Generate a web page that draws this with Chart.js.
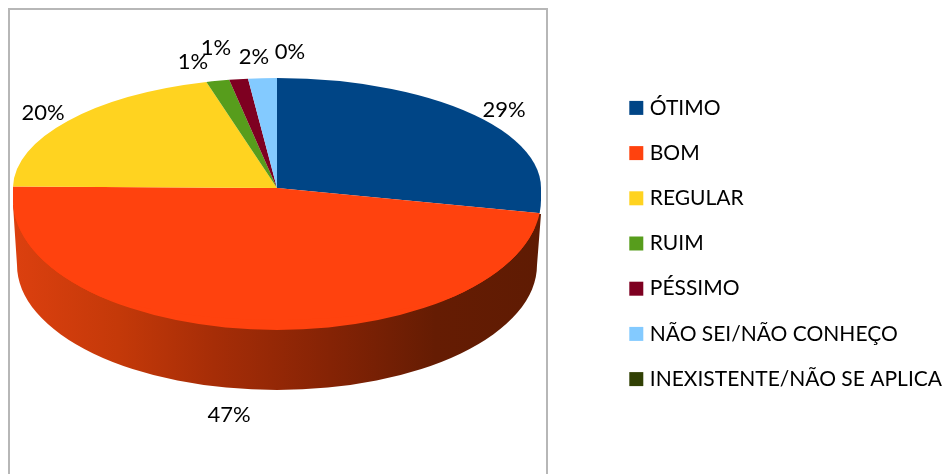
<!DOCTYPE html>
<html>
<head>
<meta charset="utf-8">
<style>
  body { margin: 0; background: #fff; }
  canvas { display: block; }
</style>
<script src="https://cdn.jsdelivr.net/npm/chart.js@4"></script>
</head>
<body>
<canvas id="pie-chart" width="946" height="474"></canvas>
<script>
// data
const categories = ["ÓTIMO", "BOM", "REGULAR", "RUIM", "PÉSSIMO", "NÃO SEI/NÃO CONHEÇO", "INEXISTENTE/NÃO SE APLICA"];
const percentages = [28.6, 46.6, 20.49, 1.41, 1.15, 1.75, 0];
const sliceColors = ["#004586", "#ff420e", "#ffd320", "#579d1c", "#7e0021", "#83caff", "#314004"];

// where the percent labels sit (same order as categories)
const labelAnchors = [[504, 110], [229, 415], [43, 113], [193, 62], [216, 48], [254, 57], [290, 52]];

// fake perspective of the disc
const RX = 264, CX = 277, CY = 188;
const RY_BACK = 110;                // back half
const FRONT_CY = 200, FRONT_RY = 130;   // front rim
const BASE_CY = 265, BASE_RX = 260, BASE_RY = 125;  // bottom rim of the wall
const FONT = "Lato, Carlito, sans-serif";

const tiltedPie = {
	id: 'tiltedPie',
	beforeDatasetsDraw(chart) {
		const ctx = chart.ctx;
		const arcs = chart.getDatasetMeta(0).data;
		const big = arcs[1];

		// wall
		const grad = ctx.createLinearGradient(CX - RX, 0, CX + RX, 0);
		grad.addColorStop(0, '#dc400f');
		grad.addColorStop(0.2, '#c43909');
		grad.addColorStop(0.38, '#a62d07');
		grad.addColorStop(0.6, '#852305');
		grad.addColorStop(0.8, '#651c03');
		grad.addColorStop(1, '#5f1b03');
		ctx.save();
		ctx.beginPath();
		ctx.moveTo(CX + RX, 214);
		ctx.lineTo(CX + BASE_RX, BASE_CY);
		ctx.ellipse(CX, BASE_CY, BASE_RX, BASE_RY, 0, 0, Math.PI);
		ctx.lineTo(CX - RX, 205);
		ctx.closePath();
		ctx.fillStyle = grad;
		ctx.fill();
		ctx.restore();

		const place = (sx, sy, list) => {
			ctx.save();
			ctx.translate(CX, CY);
			ctx.scale(sx, sy);
			ctx.translate(-big.x, -big.y);
			list.forEach(a => a.draw(ctx));
			ctx.restore();
		};
		const flat = RY_BACK / RX;

		// back half
		ctx.save();
		ctx.beginPath();
		ctx.rect(0, 0, chart.width, CY);
		ctx.clip();
		place(1, flat, arcs);
		ctx.restore();

		// front half, rim is deeper than the back
		ctx.save();
		ctx.beginPath();
		ctx.rect(0, CY, chart.width, chart.height);
		ctx.clip();
		ctx.beginPath();
		ctx.rect(CX - RX, CY, RX * 2, FRONT_CY - CY);
		ctx.ellipse(CX, FRONT_CY, RX, FRONT_RY, 0, 0, Math.PI * 2);
		ctx.clip();
		place(1.2, 0.8, [big]);
		place(1.2, 1.2 * flat, arcs);
		ctx.restore();

		return false;
	},
	afterDraw(chart) {
		const ctx = chart.ctx;
		ctx.save();
		// frame, open at the bottom
		ctx.strokeStyle = '#b7b7b7';
		ctx.lineWidth = 2;
		ctx.beginPath();
		ctx.moveTo(9, 474);
		ctx.lineTo(9, 9);
		ctx.lineTo(547, 9);
		ctx.lineTo(547, 474);
		ctx.stroke();
		// percent labels
		ctx.fillStyle = '#000';
		ctx.font = '22px ' + FONT;
		ctx.textAlign = 'center';
		ctx.textBaseline = 'middle';
		percentages.forEach((v, i) => {
			ctx.fillText(Math.round(v) + '%', labelAnchors[i][0], labelAnchors[i][1]);
		});
		ctx.restore();
	}
};

// small box + thick stroke, so the text sits closer to the square
const defaultLabels = Chart.overrides.pie.plugins.legend.labels.generateLabels;

new Chart(document.getElementById("pie-chart"), {
	type: 'pie',
	data: {
		labels: categories,
		datasets: [{
			data: percentages,
			backgroundColor: sliceColors,
			borderWidth: 0
		}]
	},
	options: {
		responsive: false,
		animation: false,
		radius: RX,
		layout: { padding: { top: 13, right: -6 } },
		plugins: {
			tooltip: { enabled: false },
			legend: {
				position: 'right',
				labels: {
					boxWidth: 6,
					boxHeight: 6,
					padding: 24.2,
					color: '#000',
					font: { family: FONT, size: 21 },
					generateLabels(chart) {
						return defaultLabels(chart).map(item => {
							item.lineWidth = 8;
							item.strokeStyle = item.fillStyle;
							return item;
						});
					}
				}
			}
		}
	},
	plugins: [tiltedPie]
});
</script>
</body>
</html>
